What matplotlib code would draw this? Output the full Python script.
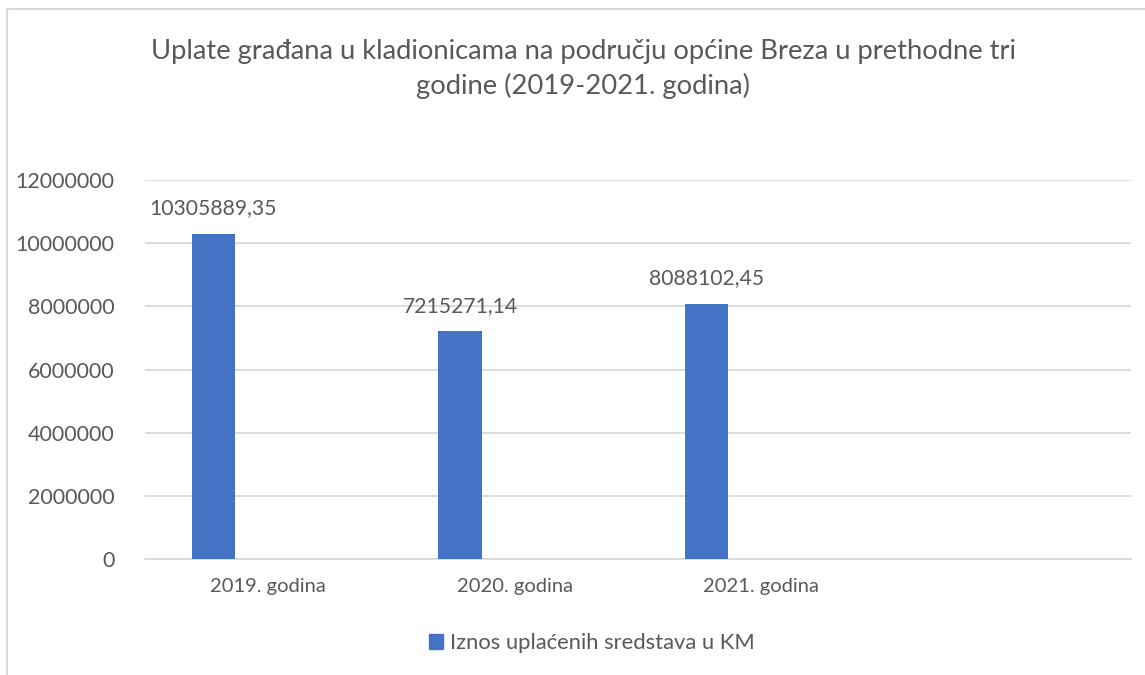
import matplotlib.pyplot as plt
import matplotlib.transforms as mtransforms
from matplotlib.lines import Line2D
from matplotlib.patches import Patch

categories = ["2019. godina", "2020. godina", "2021. godina", ""]
values = [10305889.35, 7215271.14, 8088102.45]
labels = ["10305889,35", "7215271,14", "8088102,45"]
yticks = [0, 2000000, 4000000, 6000000, 8000000, 10000000, 12000000]
series_name = "Iznos uplaćenih sredstava u KM"
title = "Uplate građana u kladionicama na području općine Breza u prethodne tri\ngodine (2019-2021. godina)"

txt = "#595959"
grid = "#D9D9D9"
blue = "#4472C4"
plt.rcParams['font.family'] = ['Lato', 'DejaVu Sans']

W, H = 1145, 675
fig = plt.figure(figsize=(W / 100, H / 100), dpi=100)
ax = fig.add_axes([145 / W, 1 - 559 / H, (1131 - 145) / W, (559 - 180) / H])

# chart frame (left and top edges visible)
fig.add_artist(Line2D([7 / W, 7 / W], [0, 1 - 9 / H], color=grid, lw=1.5))
fig.add_artist(Line2D([7 / W, 1], [1 - 9 / H, 1 - 9 / H], color=grid, lw=1.5))

xs = [i - 0.222 for i in range(len(values))]
ax.bar(xs, values, width=0.175, color=blue, zorder=3)
for x, v, lab in zip(xs, values, labels):
    ax.annotate(lab, (x, v), xytext=(0, 11), textcoords="offset points",
                ha="center", va="bottom", fontsize=15.2, color=txt)

ax.set_xlim(-0.5, len(categories) - 0.5)
ax.set_ylim(0, 12000000)
ax.set_yticks(yticks)
ax.set_yticklabels([str(t) for t in yticks], fontsize=15.5, color=txt)
ax.set_xticks(range(len(categories)))
ax.set_xticklabels(categories, fontsize=14.5, color=txt)
shift = mtransforms.ScaledTranslation(7 / 100, 0, fig.dpi_scale_trans)
for t in ax.get_xticklabels():
    t.set_transform(t.get_transform() + shift)
ax.tick_params(length=0)
ax.tick_params(axis="y", pad=22)
ax.tick_params(axis="x", pad=14)
ax.grid(axis="y", color=grid, lw=1.3, zorder=0)
for s in ["top", "right", "left"]:
    ax.spines[s].set_visible(False)
ax.spines["bottom"].set_color(grid)
ax.spines["bottom"].set_linewidth(1.3)

fig.text(583 / W, 1 - 69 / H, title, ha="center", va="center", fontsize=19.7,
         color=txt, linespacing=1.45)

fig.legend(handles=[Patch(color=blue, label=series_name)], loc="center",
           bbox_to_anchor=(592 / W, 1 - 643 / H), frameon=False, fontsize=15.8,
           labelcolor=txt, handlelength=0.65, handleheight=0.65, handletextpad=0.3)

fig.savefig("out.png", dpi=100)
